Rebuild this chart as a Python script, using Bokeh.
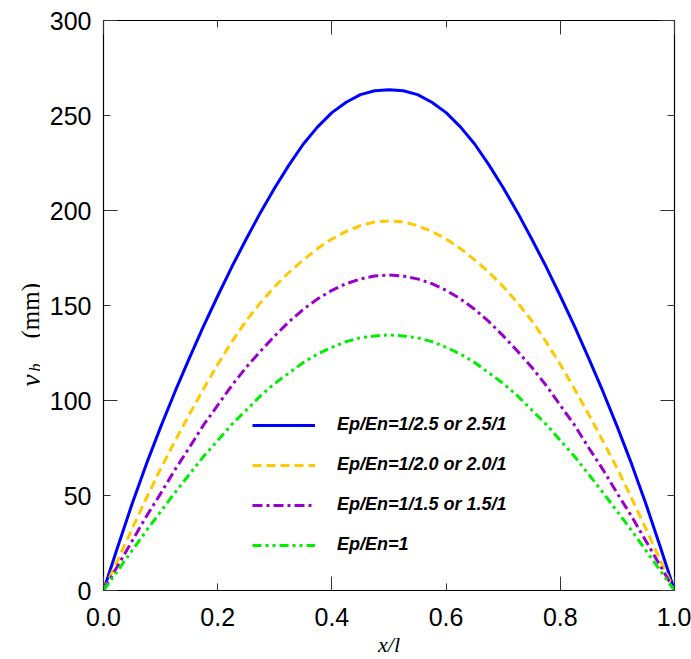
import math
from bokeh.plotting import figure
from bokeh.layouts import row
from bokeh.models import LinearAxis, FixedTicker, Legend, LegendItem, Range1d, Grid
from bokeh.core.properties import value
from bokeh.embed import file_html
from bokeh.resources import INLINE

# ---- data ----
x_over_l = [0.0, 0.025, 0.05, 0.075, 0.1, 0.125, 0.15, 0.175, 0.2, 0.225, 0.25,
            0.275, 0.3, 0.325, 0.35, 0.375, 0.4, 0.425, 0.45, 0.475, 0.5,
            0.525, 0.55, 0.575, 0.6, 0.625, 0.65, 0.675, 0.7, 0.725, 0.75,
            0.775, 0.8, 0.825, 0.85, 0.875, 0.9, 0.925, 0.95, 0.975, 1.0]

vb_25 = [0, 23, 45.5, 66.5, 86, 104.5, 122, 139, 155, 170.5, 185, 199, 212, 224, 235,
         244, 251.5, 257, 261, 263, 263.5,
         263, 261, 257, 251.5, 244, 235, 224, 212, 199, 185, 170.5, 155, 139, 122,
         104.5, 86, 66.5, 45.5, 23, 0]
vb_20 = [0, 16, 32.5, 48.5, 64, 78.5, 92.5, 106, 119, 131, 142, 151.5, 160, 167.5, 174,
         180, 185, 189, 192, 194, 194.5,
         194, 192, 189, 185, 180, 174, 167.5, 160, 151.5, 142, 131, 119, 106, 92.5,
         78.5, 64, 48.5, 32.5, 16, 0]
vb_15 = [0, 13, 26, 39, 51, 63.5, 75, 87, 97.5, 108, 117.5, 126, 134, 141.5, 148,
         153.5, 158, 161.5, 164, 165.5, 166,
         165.5, 164, 161.5, 158, 153.5, 148, 141.5, 134, 126, 117.5, 108, 97.5, 87, 75,
         63.5, 51, 39, 26, 13, 0]
vb_10 = [0, 10.5, 21, 31.5, 41.5, 51.5, 61, 70.5, 79, 87.5, 95, 102.5, 109, 114.5, 120,
         124.5, 128, 131, 133, 134, 134.5,
         134, 133, 131, 128, 124.5, 120, 114.5, 109, 102.5, 95, 87.5, 79, 70.5, 61,
         51.5, 41.5, 31.5, 21, 10.5, 0]

series_labels = ["Ep/En=1/2.5 or 2.5/1", "Ep/En=1/2.0 or 2.0/1",
                 "Ep/En=1/1.5 or 1.5/1", "Ep/En=1"]

x_ticks = [0.0, 0.2, 0.4, 0.6, 0.8, 1.0]
x_long_ticks = [0.0, 0.4, 0.8, 1.0]
x_short_ticks = [0.2, 0.6]
y_ticks = [0, 50, 100, 150, 200, 250, 300]
y_long_ticks = [0, 100, 200, 300]
y_short_ticks = [50, 150, 250]

TITLE_W = 40
W, H = 691, 659
TOP, BOTTOM = 20, 69

# ---- main figure ----
p = figure(width=W - TITLE_W, height=H, x_range=Range1d(0, 1), y_range=Range1d(0, 300),
           output_backend="svg", toolbar_location=None, title_location=None,
           x_axis_location=None, y_axis_location=None,
           min_border_left=103 - TITLE_W, min_border_right=17,
           min_border_top=TOP, min_border_bottom=BOTTOM)
p.outline_line_color = "black"
p.outline_line_width = 1.2
p.background_fill_color = "white"
p.border_fill_color = "white"
for r in list(p.center):
    if isinstance(r, Grid):
        r.visible = False

LABEL_FONT = "Liberation Sans"


def tick_axis(long_t, short_t):
    ax = LinearAxis(ticker=FixedTicker(ticks=long_t, minor_ticks=short_t))
    ax.axis_line_color = None
    ax.major_tick_in = 14
    ax.major_tick_out = 0
    ax.minor_tick_in = 7
    ax.minor_tick_out = 0
    ax.major_tick_line_color = "#333333"
    ax.minor_tick_line_color = "#333333"
    ax.major_label_text_font_size = "0px"
    ax.major_label_text_color = None
    ax.major_label_standoff = 0
    return ax


def label_axis(ticks, standoff):
    ax = LinearAxis(ticker=FixedTicker(ticks=ticks, minor_ticks=[]))
    ax.axis_line_color = None
    ax.major_tick_line_color = None
    ax.major_tick_in = 0
    ax.major_tick_out = 0
    ax.minor_tick_in = 0
    ax.minor_tick_out = 0
    ax.major_label_text_font = LABEL_FONT
    ax.major_label_text_font_size = "25px"
    ax.major_label_text_color = "black"
    ax.major_label_standoff = standoff
    return ax


# inner tick-only axes on all four sides
p.add_layout(tick_axis(x_long_ticks, x_short_ticks), "below")
p.add_layout(tick_axis(x_long_ticks, x_short_ticks), "above")
p.add_layout(tick_axis(y_long_ticks, y_short_ticks), "left")
p.add_layout(tick_axis(y_long_ticks, y_short_ticks), "right")

# outer label axes
xlab = label_axis(x_ticks, 17)
xlab.major_label_overrides = {0.0: "0.0", 1.0: "1.0"}
xlab.axis_label = "x/l"
xlab.axis_label_text_font = "Liberation Serif"
xlab.axis_label_text_font_style = "italic"
xlab.axis_label_text_font_size = "22px"
xlab.axis_label_text_color = "black"
xlab.axis_label_standoff = 3
p.add_layout(xlab, "below")

ylab = label_axis(y_ticks, 12)
p.add_layout(ylab, "left")

# ---- lines ----
r1 = p.line(x_over_l, vb_25, line_color="#0000FF", line_width=3)
r2 = p.line(x_over_l, vb_20, line_color="#FFC800", line_width=3, line_dash="9 5")
r3 = p.line(x_over_l, vb_15, line_color="#9900CC", line_width=3, line_dash="10 4 3 4")
r4 = p.line(x_over_l, vb_10, line_color="#00EE00", line_width=3, line_dash="9 4 3 4 3 4")

legend = Legend(items=[LegendItem(label=series_labels[0], renderers=[r1]),
                       LegendItem(label=series_labels[1], renderers=[r2]),
                       LegendItem(label=series_labels[2], renderers=[r3]),
                       LegendItem(label=series_labels[3], renderers=[r4])],
                location=(149, 35), border_line_color=None, background_fill_alpha=0,
                label_text_font=LABEL_FONT, label_text_font_style="bold italic",
                label_text_font_size="18px", label_text_color="black",
                glyph_width=63, glyph_height=20,
                label_height=20, label_standoff=22, spacing=19, padding=0, margin=0)
p.add_layout(legend)

# ---- narrow strip holding the y-axis title  v_b (mm) ----
# its frame is aligned with the main frame (rows 20..590), so the range maps canvas px
t = figure(width=TITLE_W, height=H, x_range=Range1d(0, TITLE_W),
           y_range=Range1d(BOTTOM, H - TOP),
           output_backend="svg", toolbar_location=None, title_location=None,
           x_axis_location=None, y_axis_location=None,
           min_border_left=0, min_border_right=0,
           min_border_top=TOP, min_border_bottom=BOTTOM)
t.outline_line_color = None
t.background_fill_color = "white"
t.border_fill_color = "white"
for r in list(t.center):
    if isinstance(r, Grid):
        r.visible = False

serif = value("Liberation Serif")
t.text(x=[30], y=[H - 386], text=["v"], angle=math.pi / 2, text_font=serif,
       text_font_style="italic", text_font_size="27px", text_color="black",
       text_align="left", text_baseline="alphabetic")
t.text(x=[35], y=[H - 371], text=["b"], angle=math.pi / 2, text_font=serif,
       text_font_style="italic", text_font_size="16px", text_color="black",
       text_align="left", text_baseline="alphabetic")
t.text(x=[30], y=[H - 338], text=["(mm)"], angle=math.pi / 2, text_font=serif,
       text_font_style="normal", text_font_size="25px", text_color="black",
       text_align="left", text_baseline="alphabetic")

layout = row(t, p, spacing=0)
open("out.html", "w").write(file_html(layout, INLINE))
